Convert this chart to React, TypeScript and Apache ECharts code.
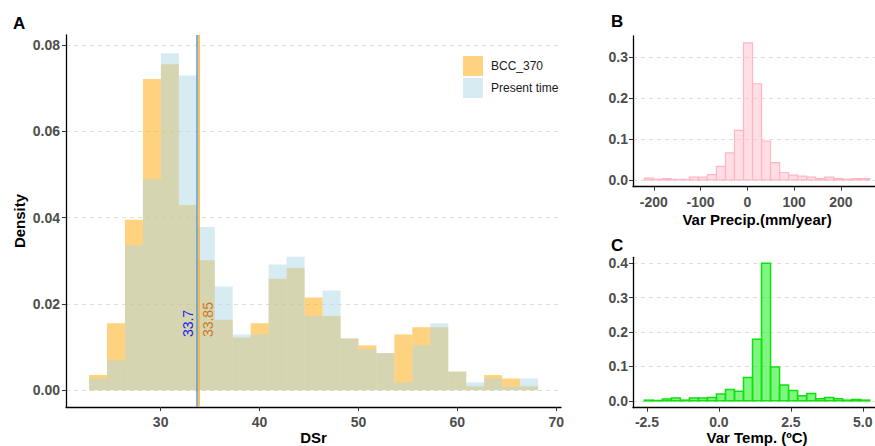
import React, { useEffect, useRef } from 'react';
import * as echarts from 'echarts';

const FONT = '"Liberation Sans", Arial, Helvetica, sans-serif';

// ---------- Panel A : DSr densities ----------
const binStartA = 22.76;
const binWidthA = 1.816;
const bccValues = [0.0035, 0.0155, 0.0395, 0.0721, 0.0755, 0.0429, 0.0301, 0.0163, 0.0122, 0.0155, 0.0258, 0.0283, 0.0215, 0.0172, 0.012, 0.0104, 0.0086, 0.0129, 0.0146, 0.0146, 0.0043, 0.0009, 0.0035, 0.0027, 0.0009];
const presentValues = [0.0027, 0.0069, 0.0335, 0.0489, 0.0781, 0.0729, 0.0378, 0.024, 0.0129, 0.0129, 0.0291, 0.0309, 0.0172, 0.0231, 0.012, 0.0095, 0.0086, 0.0018, 0.0104, 0.0155, 0.0043, 0.0018, 0.0027, 0.0009, 0.0027];
const meanPresent = 33.7;
const meanBcc = 33.85;
const meanLabels = ['33.7', '33.85'];
const meanLabelX = [32.73, 34.75];
const meanLabelY = 0.0123;
const xTicksA = [30, 40, 50, 60, 70];
const yTicksA = [0, 0.02, 0.04, 0.06, 0.08];
const seriesNames = ['BCC_370', 'Present time'];

// ---------- Panel B : precipitation change ----------
const binStartB = -220.5;
const binWidthB = 19.3;
const precipValues = [0.004, 0.0015, 0.003, 0.001, 0.001, 0.0065, 0.0065, 0.013, 0.033, 0.066, 0.121, 0.335, 0.235, 0.095, 0.042, 0.018, 0.0114, 0.009, 0.0065, 0.003, 0.0065, 0.003, 0.0015, 0.003, 0.003];
const xTicksB = [-200, -100, 0, 100, 200];
const yTicksB = [0, 0.1, 0.2, 0.3];

// ---------- Panel C : temperature change ----------
const binStartC = -2.594;
const binWidthC = 0.3134;
const tempValues = [0.002, 0.001, 0.005, 0.008, 0.002, 0.008, 0.008, 0.01, 0.02, 0.033, 0.028, 0.068, 0.179, 0.4, 0.098, 0.046, 0.03, 0.0145, 0.021, 0.006, 0.01, 0.006, 0.002, 0.004, 0.002];
const xTicksC = [-2.5, 0, 2.5, 5];
const yTicksC = [0, 0.1, 0.2, 0.3, 0.4];

const histData = (start: number, w: number, vals: number[]) =>
  vals.map((v, i) => [start + i * w, start + (i + 1) * w, v]);

const makeRender = (fill: string, stroke: string | null, lw: number) => (params: any, api: any) => {
  const p0 = api.coord([api.value(0), api.value(2)]);
  const p1 = api.coord([api.value(1), 0]);
  return {
    type: 'rect',
    shape: { x: p0[0], y: p0[1], width: p1[0] - p0[0], height: p1[1] - p0[1] },
    style: stroke ? { fill, stroke, lineWidth: lw } : { fill },
  };
};

const axisBase = (ticks: number[], fmt: (v: number) => string, margin: number) => ({
  axisLine: { show: true, onZero: false, lineStyle: { color: '#000', width: 1.3 } },
  axisTick: { show: true, customValues: ticks, length: 4, lineStyle: { color: '#333', width: 1 } },
  axisLabel: {
    customValues: ticks,
    formatter: fmt,
    color: '#4d4d4d',
    fontSize: 14,
    fontWeight: 'bold',
    fontFamily: FONT,
    margin,
  },
  nameMoveOverlap: false,
});

const splitDashed = { show: true, lineStyle: { color: '#e2dfd5', width: 1, type: [4, 4] } };
const nameStyle = { color: '#000', fontSize: 15, fontWeight: 'bold', fontFamily: FONT };

export default function App() {
  const ref = useRef<HTMLDivElement>(null);
  useEffect(() => {
    document.body.style.margin = '0';
    const chart = echarts.init(ref.current as HTMLDivElement, undefined, { renderer: 'svg' });
    const option: any = {
      animation: false,
      grid: [
        { left: 66, right: 314, top: 35, bottom: 39, outerBoundsMode: 'none' },
        { left: 633, right: -6, top: 36, bottom: 259.3, outerBoundsMode: 'none' },
        { left: 633, right: -6, top: 257.3, bottom: 38.3, outerBoundsMode: 'none' },
      ],
      xAxis: [
        {
          type: 'value', gridIndex: 0, min: 20.43, max: 70.48,
          ...axisBase(xTicksA, (v: number) => String(v), 8),
          splitLine: { show: false },
          name: 'DSr', nameLocation: 'middle', nameGap: 23, nameTextStyle: nameStyle,
        },
        {
          type: 'value', gridIndex: 1, min: -244.6, max: 286,
          ...axisBase(xTicksB, (v: number) => String(v), 8),
          splitLine: { show: false },
          name: 'Var Precip.(mm/year)', nameLocation: 'middle', nameGap: 25, nameTextStyle: nameStyle,
        },
        {
          type: 'value', gridIndex: 2, min: -2.986, max: 5.632,
          ...axisBase(xTicksC, (v: number) => v.toFixed(1), 7),
          splitLine: { show: false },
          name: 'Var Temp. (ºC)', nameLocation: 'middle', nameGap: 22, nameTextStyle: nameStyle,
        },
      ],
      yAxis: [
        {
          type: 'value', gridIndex: 0, min: -0.0039, max: 0.0823,
          ...axisBase(yTicksA, (v: number) => v.toFixed(2), 6),
          splitLine: splitDashed,
          name: 'Density', nameLocation: 'middle', nameGap: 39, nameRotate: 90, nameTextStyle: nameStyle,
        },
        {
          type: 'value', gridIndex: 1, min: -0.01675, max: 0.3518,
          ...axisBase(yTicksB, (v: number) => v.toFixed(1), 5),
          splitLine: splitDashed,
        },
        {
          type: 'value', gridIndex: 2, min: -0.02, max: 0.4173,
          ...axisBase(yTicksC, (v: number) => v.toFixed(1), 5),
          splitLine: splitDashed,
        },
      ],
      legend: {
        orient: 'vertical', left: 463, top: 56, padding: 0, itemWidth: 20, itemHeight: 20, itemGap: 2,
        selectedMode: false,
        data: [
          { name: seriesNames[0], icon: 'rect', itemStyle: { color: 'rgba(255,165,0,0.5)' } },
          { name: seriesNames[1], icon: 'rect', itemStyle: { color: 'rgba(173,216,230,0.5)' } },
        ],
        textStyle: { fontSize: 12, color: '#1a1a1a', fontFamily: FONT, padding: [0, 0, 0, 3] },
      },
      series: [
        {
          type: 'custom', name: seriesNames[0], xAxisIndex: 0, yAxisIndex: 0,
          renderItem: makeRender('rgba(255,165,0,0.5)', null, 0),
          itemStyle: { color: 'rgba(255,165,0,0.5)' },
          encode: { x: [0, 1], y: 2 },
          data: histData(binStartA, binWidthA, bccValues),
          z: 2,
        },
        {
          type: 'custom', name: seriesNames[1], xAxisIndex: 0, yAxisIndex: 0,
          renderItem: makeRender('rgba(173,216,230,0.5)', null, 0),
          itemStyle: { color: 'rgba(173,216,230,0.5)' },
          encode: { x: [0, 1], y: 2 },
          data: histData(binStartA, binWidthA, presentValues),
          z: 3,
        },
        {
          type: 'line', xAxisIndex: 0, yAxisIndex: 0, data: [], z: 4, silent: true,
          markLine: {
            silent: true, symbol: ['none', 'none'], label: { show: false },
            lineStyle: { type: 'solid', width: 1.6 },
            data: [
              { xAxis: meanPresent, lineStyle: { color: '#649fcd', type: 'solid', width: 1.6 } },
              { xAxis: meanBcc, lineStyle: { color: '#f7b13c', type: 'solid', width: 1.6 } },
            ],
          },
        },
        {
          type: 'custom', xAxisIndex: 1, yAxisIndex: 1,
          renderItem: makeRender('rgba(255,192,203,0.5)', '#ffb6c4', 1.2),
          encode: { x: [0, 1], y: 2 },
          data: histData(binStartB, binWidthB, precipValues),
          z: 2,
        },
        {
          type: 'custom', xAxisIndex: 2, yAxisIndex: 2,
          renderItem: makeRender('rgba(0,238,0,0.5)', '#11e011', 1.5),
          encode: { x: [0, 1], y: 2 },
          data: histData(binStartC, binWidthC, tempValues),
          z: 2,
        },
      ],
    };
    chart.setOption(option);

    const pA = chart.convertToPixel({ gridIndex: 0 } as any, [meanLabelX[0], meanLabelY]) as number[];
    const pB = chart.convertToPixel({ gridIndex: 0 } as any, [meanLabelX[1], meanLabelY]) as number[];
    const letter = (t: string, x: number, y: number) => ({
      type: 'text', x, y,
      style: { text: t, fill: '#000', fontSize: 17, fontWeight: 'bold', fontFamily: FONT, align: 'left', verticalAlign: 'middle' },
    });
    chart.setOption({
      graphic: [
        letter('A', 13, 23),
        letter('B', 611, 21),
        letter('C', 611, 245),
        {
          type: 'text', x: pA[0], y: pA[1], rotation: Math.PI / 2, z: 10,
          style: { text: meanLabels[0], fill: '#1a1aee', fontSize: 14, fontFamily: FONT, align: 'left', verticalAlign: 'middle' },
        },
        {
          type: 'text', x: pB[0], y: pB[1], rotation: Math.PI / 2, z: 10,
          style: { text: meanLabels[1], fill: '#d2761e', fontSize: 14, fontFamily: FONT, align: 'left', verticalAlign: 'middle' },
        },
      ],
    });
    return () => chart.dispose();
  }, []);
  return <div ref={ref} style={{ width: 875, height: 446 }} />;
}
